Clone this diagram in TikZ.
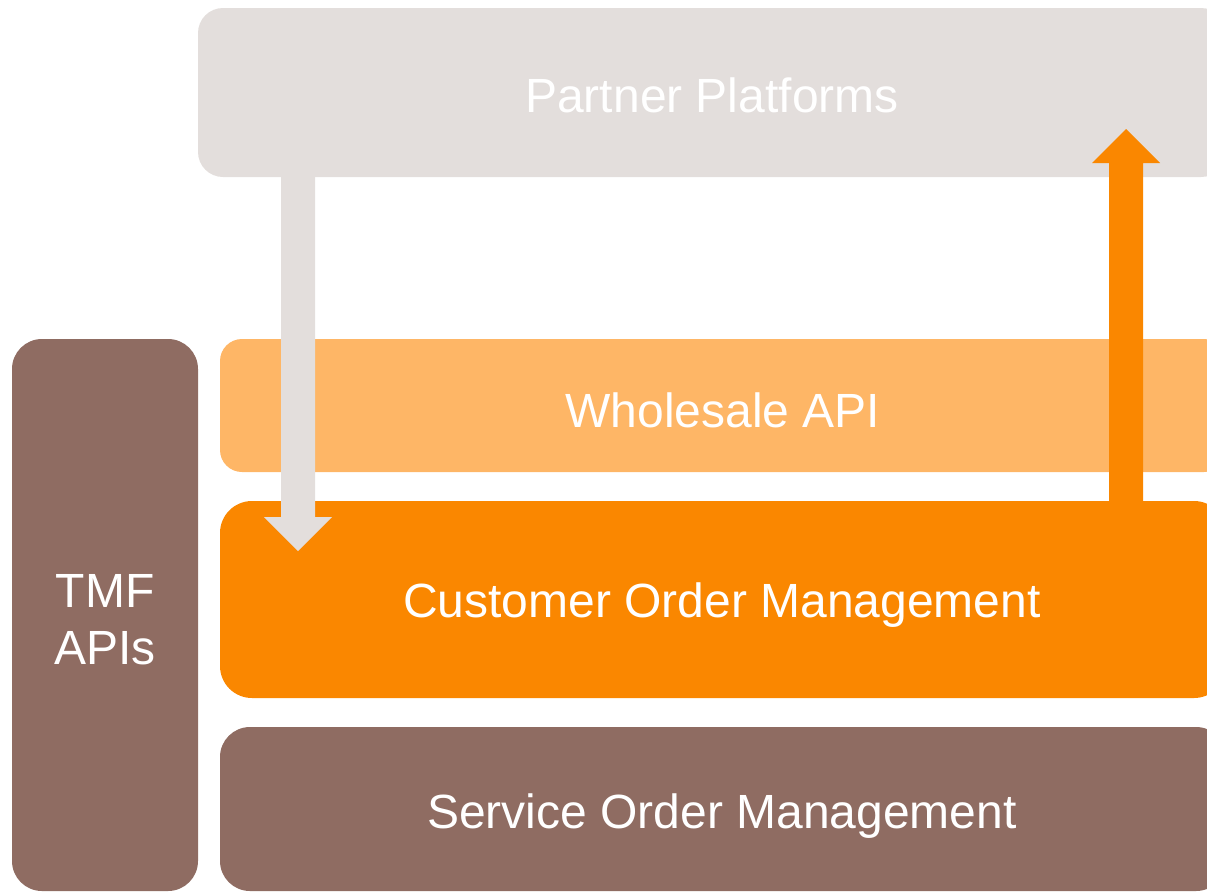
\documentclass[tikz,border=0pt]{standalone}
\usepackage{fontspec}
\setmainfont{Liberation Sans}
\definecolor{ppgray}{HTML}{E3DEDC}
\definecolor{lorange}{HTML}{FEB666}
\definecolor{dorange}{HTML}{FA8700}
\definecolor{brownc}{HTML}{8F6C62}
\tikzset{
  layer/.style={inner sep=0pt, text=white,
    font=\fontsize{48}{57}\selectfont, align=center},
}
\begin{document}
\begin{tikzpicture}[x=1pt,y=-1pt]
\useasboundingbox (0,0) rectangle (1207,892);
\clip (0,0) rectangle (1207,892);
% boxes
\fill[ppgray, rounded corners=25pt] (198,8) rectangle (1226,177);
\node[layer] (pp) at (712,95) {Partner Platforms};
\fill[lorange, rounded corners=22pt] (220,339) rectangle (1226,472);
\node[layer] (wa) at (723,410) {Wholesale API};
\fill[dorange, rounded corners=32pt] (220,501) rectangle (1226,698);
\node[layer] (com) at (722,605) {Customer Order Management};
\fill[brownc, rounded corners=30pt] (220,727) rectangle (1226,891);
\node[layer] (som) at (722,816) {Service Order Management};
\fill[brownc, rounded corners=30pt] (12,339) rectangle (198,891);
\node[layer] (tmf) at (105,620) {TMF\\APIs};
% arrows
\coordinate (gtop) at (298,176);
\coordinate (gtip) at (298,551);
\fill[ppgray] ([xshift=-17pt]gtop) -- ([xshift=17pt]gtop) -- (315,517) -- (332,517)
  -- (gtip) -- (264,517) -- (281,517) -- cycle;
\coordinate (obot) at (1126,502);
\coordinate (otip) at (1126,129);
\fill[dorange] ([xshift=-17pt]obot) -- ([xshift=17pt]obot) -- (1143,163) -- (1160,163)
  -- (otip) -- (1092,163) -- (1109,163) -- cycle;
\end{tikzpicture}
\end{document}
